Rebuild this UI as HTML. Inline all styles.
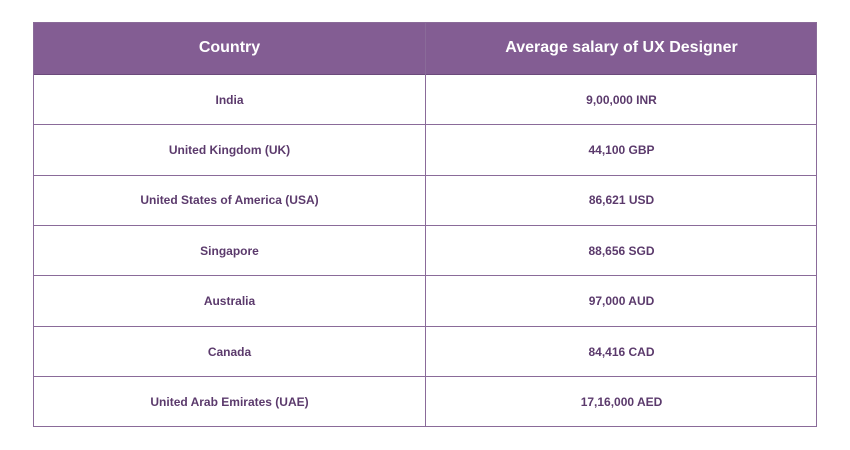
<!DOCTYPE html>
<html><head><style>
body{margin:0;width:850px;height:450px;background:#fff;position:relative;font-family:"Liberation Sans",sans-serif;overflow:hidden}
.t{position:absolute;left:33px;top:22px;width:784px;height:405px;border:1px solid #8a6b99;box-sizing:border-box}
.h{position:absolute;left:0;top:0;width:100%;height:51px;background:#835d93;border-bottom:1px solid #6b4a7b}
.v{position:absolute;left:391px;top:0;width:1px;height:100%;background:#8a6b99}
.r{position:absolute;left:0;width:100%;height:1px;background:#8a6b99}
.c{position:absolute;width:391px;text-align:center;font-weight:bold;font-size:12px;color:#5b3a6c}
.hc{color:#fff;font-size:16px;font-weight:bold}
</style></head><body>
<div class="t">
<div class="h"></div>
<div class="v"></div>
<div class="r" style="top:101px"></div>
<div class="r" style="top:152px"></div>
<div class="r" style="top:202px"></div>
<div class="r" style="top:252px"></div>
<div class="r" style="top:303px"></div>
<div class="r" style="top:353px"></div>
<div class="c hc" style="left:0;top:16px">Country</div>
<div class="c hc" style="left:392px;top:16px">Average salary of UX Designer</div>
<div class="c" style="left:0;top:70px">India</div><div class="c" style="left:392px;top:70px">9,00,000 INR</div>
<div class="c" style="left:0;top:120px">United Kingdom (UK)</div><div class="c" style="left:392px;top:120px">44,100 GBP</div>
<div class="c" style="left:0;top:170px">United States of America (USA)</div><div class="c" style="left:392px;top:170px">86,621 USD</div>
<div class="c" style="left:0;top:221px">Singapore</div><div class="c" style="left:392px;top:221px">88,656 SGD</div>
<div class="c" style="left:0;top:271px">Australia</div><div class="c" style="left:392px;top:271px">97,000 AUD</div>
<div class="c" style="left:0;top:322px">Canada</div><div class="c" style="left:392px;top:322px">84,416 CAD</div>
<div class="c" style="left:0;top:372px">United Arab Emirates (UAE)</div><div class="c" style="left:392px;top:372px">17,16,000 AED</div>
</div>
</body></html>
